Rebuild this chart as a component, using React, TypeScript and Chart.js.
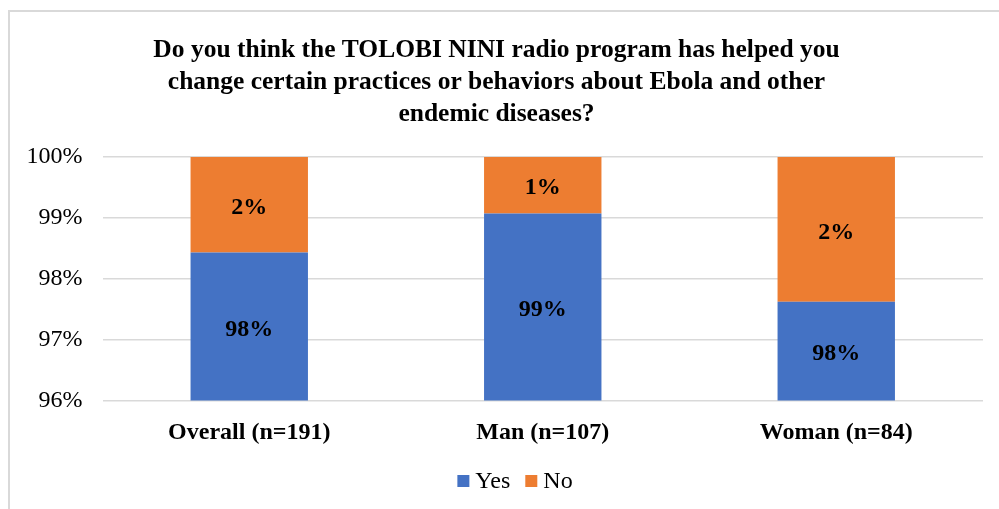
import React, { useEffect, useRef } from "react";
import { Chart, registerables } from "chart.js";

Chart.register(...registerables);

const titleLines = [
  "Do you think the TOLOBI NINI radio program has helped you",
  "change certain practices or behaviors about Ebola and other",
  "endemic diseases?",
];
const categories = ["Overall (n=191)", "Man (n=107)", "Woman (n=84)"];
const seriesNames = ["Yes", "No"];
const yesValues = [98.43, 99.07, 97.62];
const noValues = [1.57, 0.93, 2.38];
const yTicks = [96, 97, 98, 99, 100];
const seriesColors = ["#4472C4", "#ED7D31"];

const FONT = '"Liberation Serif", "Times New Roman", serif';

const framePlugin = {
  id: "frame",
  beforeDraw(chart: any) {
    const ctx = chart.ctx;
    ctx.save();
    ctx.fillStyle = "#fff";
    ctx.fillRect(0, 0, chart.width, chart.height);
    ctx.strokeStyle = "#d9d9d9";
    ctx.lineWidth = 2;
    ctx.beginPath();
    ctx.moveTo(9, chart.height + 5);
    ctx.lineTo(9, 11);
    ctx.lineTo(chart.width + 5, 11);
    ctx.stroke();
    ctx.restore();
  },
};

const dataLabelPlugin = {
  id: "dataLabels",
  afterDatasetsDraw(chart: any) {
    const ctx = chart.ctx;
    const area = chart.chartArea;
    ctx.save();
    ctx.font = `bold 24px ${FONT}`;
    ctx.fillStyle = "#000";
    ctx.textAlign = "center";
    ctx.textBaseline = "middle";
    chart.data.datasets.forEach((ds: any, di: number) => {
      const meta = chart.getDatasetMeta(di);
      meta.data.forEach((el: any, i: number) => {
        const { x, y, base } = el.getProps(["x", "y", "base"], true);
        const top = Math.max(Math.min(y, base), area.top);
        const bottom = Math.min(Math.max(y, base), area.bottom);
        if (bottom <= top) return;
        ctx.fillText(Math.round(ds.data[i]) + "%", x, (top + bottom) / 2 + 3);
      });
    });
    ctx.restore();
  },
};

const legendPlugin = {
  id: "customLegend",
  afterDraw(chart: any) {
    const ctx = chart.ctx;
    ctx.save();
    ctx.font = `24px ${FONT}`;
    ctx.textBaseline = "middle";
    ctx.textAlign = "left";
    const box = 12;
    const gapBoxText = 6;
    const gapItems = 15;
    const widths = chart.data.datasets.map(
      (ds: any) => box + gapBoxText + ctx.measureText(ds.label).width
    );
    const total =
      widths.reduce((a: number, b: number) => a + b, 0) +
      gapItems * (widths.length - 1);
    const centerX = 515;
    const cy = 481;
    let x = centerX - total / 2;
    chart.data.datasets.forEach((ds: any, i: number) => {
      ctx.fillStyle = ds.backgroundColor;
      ctx.fillRect(x, cy - box / 2, box, box);
      ctx.fillStyle = "#000";
      ctx.fillText(ds.label, x + box + gapBoxText, cy + 1);
      x += widths[i] + gapItems;
    });
    ctx.restore();
  },
};

export default function App() {
  const canvasRef = useRef<HTMLCanvasElement | null>(null);

  useEffect(() => {
    if (!canvasRef.current) return;
    const chart = new Chart(canvasRef.current, {
      type: "bar",
      data: {
        labels: categories,
        datasets: [
          {
            label: seriesNames[0],
            data: yesValues,
            backgroundColor: seriesColors[0],
            borderWidth: 0,
          },
          {
            label: seriesNames[1],
            data: noValues,
            backgroundColor: seriesColors[1],
            borderWidth: 0,
          },
        ],
      },
      options: {
        animation: false,
        responsive: false,
        maintainAspectRatio: false,
        datasets: {
          bar: { categoryPercentage: 1, barPercentage: 0.4 },
        },
        layout: { padding: { left: 10, right: 16, top: 0, bottom: 44.6 } },
        plugins: {
          legend: { display: false },
          tooltip: { enabled: false },
          title: {
            display: true,
            text: titleLines,
            color: "#000",
            font: { family: FONT, size: 25.5, weight: "bold", lineHeight: "32px" },
            padding: { top: 34, bottom: 27 },
          },
        },
        scales: {
          x: {
            stacked: true,
            grid: { display: false, drawTicks: false },
            border: { display: false },
            ticks: {
              color: "#000",
              padding: 17.6,
              font: { family: FONT, size: 24, weight: "bold" },
            },
          },
          y: {
            stacked: true,
            min: yTicks[0],
            max: yTicks[yTicks.length - 1],
            grid: { color: "#d9d9d9", lineWidth: 1.5, drawTicks: false },
            border: { display: false },
            afterFit(scale: any) {
              scale.width = 92.5;
            },
            ticks: {
              stepSize: 1,
              color: "#000",
              padding: 20,
              font: { family: FONT, size: 24 },
              callback: (v: any) => v + "%",
            },
          },
        },
      },
      plugins: [framePlugin, dataLabelPlugin, legendPlugin],
    });
    return () => chart.destroy();
  }, []);

  return (
    <div
      style={{
        position: "fixed",
        left: 0,
        top: 0,
        width: 999,
        height: 509,
        background: "#fff",
        overflow: "hidden",
      }}
    >
      <canvas
        ref={canvasRef}
        width={999}
        height={509}
        style={{ display: "block", width: 999, height: 509 }}
      />
    </div>
  );
}
